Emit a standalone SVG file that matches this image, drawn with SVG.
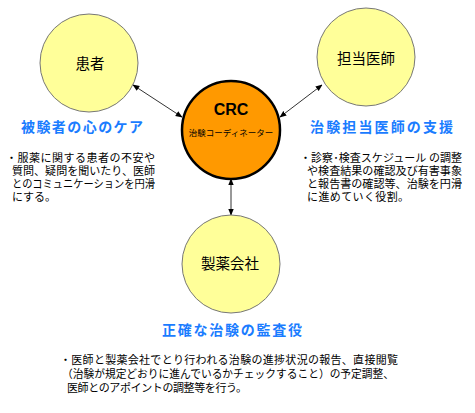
<svg xmlns="http://www.w3.org/2000/svg" width="475" height="413" viewBox="0 0 475 413">
<style>
.jp{font-family:"Noto Sans CJK JP","Noto Sans",sans-serif;fill:#000}
.node{fill:#ffff99;stroke:#777;stroke-width:1}
.crc{fill:#ff9900;stroke:#000;stroke-width:2.5}
.lbl{font-size:14.5px;text-anchor:middle}
.head{font-size:14px;font-weight:bold;fill:#1a7cff}
.body{font-size:11px}
.conn{stroke:#333;stroke-width:1;fill:none;marker-start:url(#a);marker-end:url(#a)}
</style>
<defs>
<marker id="a" viewBox="0 0 10 10" refX="9" refY="5" markerWidth="7" markerHeight="7" orient="auto-start-reverse" markerUnits="userSpaceOnUse">
<path d="M0,1 L10,5 L0,9 z" fill="#000"/>
</marker>
</defs>
<rect width="475" height="413" fill="#fff"/>
<g id="connectors">
<line class="conn" x1="133" y1="85" x2="182" y2="117"/>
<line class="conn" x1="322" y1="85" x2="280" y2="117"/>
<line class="conn" x1="231" y1="179" x2="231" y2="215"/>
</g>
<g id="patient">
<circle class="node" cx="89" cy="63" r="49"/>
<text class="jp lbl" x="90" y="68.5">患者</text>
</g>
<g id="doctor">
<circle class="node" cx="366" cy="57" r="49"/>
<text class="jp lbl" x="366" y="63.5">担当医師</text>
</g>
<g id="crc">
<circle class="crc" cx="231" cy="130" r="49"/>
<text x="231" y="115" text-anchor="middle" style="font-family:'Liberation Sans',Arial,sans-serif;font-size:16px;font-weight:bold">CRC</text>
<text class="jp" x="231" y="136" text-anchor="middle" style="font-size:8.5px">治験コーディネーター</text>
</g>
<g id="pharma">
<circle class="node" cx="231" cy="264" r="49"/>
<text class="jp lbl" x="230" y="268.5">製薬会社</text>
</g>
<g id="text-patient">
<text class="jp head" x="21" y="131.5" textLength="122" lengthAdjust="spacing">被験者の心のケア</text>
<text class="jp body" x="6" y="162" textLength="149" lengthAdjust="spacing">・服薬に関する患者の不安や</text>
<text class="jp body" x="12" y="175" textLength="143" lengthAdjust="spacingAndGlyphs">質問、疑問を聞いたり、医師</text>
<text class="jp body" x="12" y="188" textLength="143" lengthAdjust="spacingAndGlyphs">とのコミュニケーションを円滑</text>
<text class="jp body" x="12" y="201">にする。</text>
</g>
<g id="text-doctor">
<text class="jp head" x="310" y="131.5" textLength="143" lengthAdjust="spacing">治験担当医師の支援</text>
<text class="jp body" x="300" y="162" textLength="162" lengthAdjust="spacing">・診察･検査スケジュール の調整</text>
<text class="jp body" x="307" y="175" textLength="155" lengthAdjust="spacingAndGlyphs">や検査結果の確認及び有害事象</text>
<text class="jp body" x="307" y="188" textLength="155" lengthAdjust="spacingAndGlyphs">と報告書の確認等、治験を円滑</text>
<text class="jp body" x="307" y="201" textLength="102" lengthAdjust="spacing">に進めていく役割。</text>
</g>
<g id="text-pharma">
<text class="jp head" x="162" y="335" textLength="140" lengthAdjust="spacing">正確な治験の監査役</text>
<text class="jp body" x="60" y="364" textLength="338" lengthAdjust="spacing">・医師と製薬会社でとり行われる治験の進捗状況の報告、直接閲覧</text>
<text class="jp body" x="62" y="378" textLength="332" lengthAdjust="spacingAndGlyphs">（治験が規定どおりに進んでいるかチェックすること）の予定調整、</text>
<text class="jp body" x="67" y="392" textLength="180" lengthAdjust="spacing">医師とのアポイントの調整等を行う。</text>
</g>
</svg>
